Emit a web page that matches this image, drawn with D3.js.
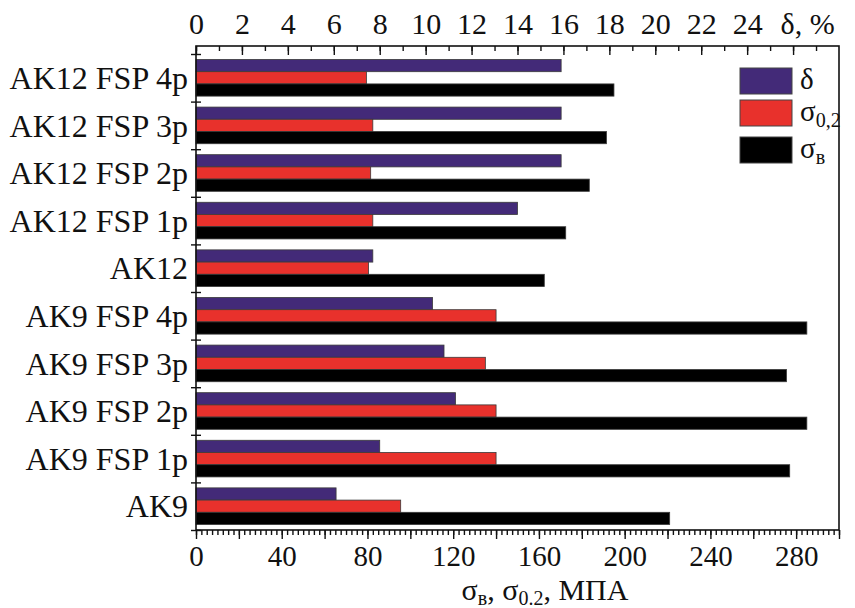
<!DOCTYPE html>
<html>
<head>
<meta charset="utf-8">
<script src="https://cdn.jsdelivr.net/npm/d3@7"></script>
<style>
  body { margin: 0; background: #fff; }
  svg text { font-family: "Liberation Serif", "Times New Roman", serif; fill: #111; }
</style>
</head>
<body>
<script>
const w = 855;
const h = 608;

// categories, top to bottom
const categories = [
	"AK12 FSP 4p",
	"AK12 FSP 3p",
	"AK12 FSP 2p",
	"AK12 FSP 1p",
	"AK12",
	"AK9 FSP 4p",
	"AK9 FSP 3p",
	"AK9 FSP 2p",
	"AK9 FSP 1p",
	"AK9",
];
// δ, % (top axis)
const delta = [15.9, 15.9, 15.9, 14.0, 7.7, 10.3, 10.8, 11.3, 8.0, 6.1];
// σ0.2 and σв, MPa (bottom axis)
const sigma02 = [79.5, 82.5, 81.5, 82.5, 80.5, 140, 135, 140, 140, 95.5];
const sigmaB = [195, 191.5, 183.5, 172.5, 162.5, 285, 275.5, 285, 277, 221];

const series = ["delta", "sigma02", "sigmaB"];
const colors = { delta: "#432a78", sigma02: "#e8312c", sigmaB: "#000000" };

const topTicks = [0, 2, 4, 6, 8, 10, 12, 14, 16, 18, 20, 22, 24, 26];
const topTickLabels = ["0", "2", "4", "6", "8", "10", "12", "14", "16", "18", "20", "22", "24", "δ, %"];
const bottomTicks = [0, 40, 80, 120, 160, 200, 240, 280];

const pLeft = 196, pRight = 839, pTop = 46, pBottom = 530;

const svg = d3.select("body").append("svg").attr("width", w).attr("height", h);

// * SCALES
const xTop = d3.scaleLinear().domain([0, 28]).range([pLeft, pRight]);
const xBot = d3.scaleLinear().domain([0, 300]).range([pLeft, pRight]);
const y = d3.scaleBand().domain(categories).range([54, pBottom]).padding(0);
const y1 = d3
	.scaleBand()
	.domain(series)
	.range([y.bandwidth() * 0.115, y.bandwidth() * 0.885]);

// * BARS
const rows = categories.map((c, i) => ({
	cat: c,
	values: [
		{ key: "delta", x: xTop(delta[i]) },
		{ key: "sigma02", x: xBot(sigma02[i]) },
		{ key: "sigmaB", x: xBot(sigmaB[i]) },
	],
}));

svg.append("g")
	.selectAll("g")
	.data(rows)
	.enter()
	.append("g")
	.attr("transform", (d) => "translate(0," + y(d.cat) + ")")
	.selectAll("rect")
	.data((d) => d.values)
	.enter()
	.append("rect")
	.attr("x", pLeft)
	.attr("y", (d) => y1(d.key))
	.attr("width", (d) => d.x - pLeft)
	.attr("height", y1.bandwidth())
	.attr("fill", (d) => colors[d.key])
	.attr("stroke", "#3a3a3a")
	.attr("stroke-width", 0.8);

// * FRAME
svg.append("rect")
	.attr("x", pLeft)
	.attr("y", pTop)
	.attr("width", pRight - pLeft)
	.attr("height", pBottom - pTop)
	.attr("fill", "none")
	.attr("stroke", "#111")
	.attr("stroke-width", 1.6);

// * TOP AXIS (δ)
svg.append("g")
	.attr("transform", "translate(0," + pTop + ")")
	.call(d3.axisTop(xTop).tickValues(d3.range(0, 28, 1)).tickSize(-5).tickFormat(""))
	.call((g) => g.select(".domain").remove());
const topAxis = svg
	.append("g")
	.attr("transform", "translate(0," + pTop + ")")
	.call(
		d3
			.axisTop(xTop)
			.tickValues(topTicks)
			.tickSize(-9)
			.tickPadding(12)
			.tickFormat((d, i) => topTickLabels[i])
	)
	.call((g) => g.select(".domain").remove());
topAxis.selectAll("text").attr("font-size", 30).attr("fill", "#111");
topAxis
	.selectAll("text")
	.filter((d) => d === 26)
	.attr("dx", 14);

// * BOTTOM AXIS (σ)
svg.append("g")
	.attr("transform", "translate(0," + pBottom + ")")
	.call(d3.axisBottom(xBot).tickValues(d3.range(0, 301, 2.5)).tickSize(5).tickFormat(""))
	.call((g) => g.select(".domain").remove());
svg.append("g")
	.attr("transform", "translate(0," + pBottom + ")")
	.call(d3.axisBottom(xBot).tickValues(d3.range(0, 301, 20)).tickSize(9).tickFormat(""))
	.call((g) => g.select(".domain").remove());
const botAxis = svg
	.append("g")
	.attr("transform", "translate(0," + pBottom + ")")
	.call(d3.axisBottom(xBot).tickValues(bottomTicks).tickSize(0).tickPadding(15))
	.call((g) => g.select(".domain").remove());
botAxis.selectAll("text").attr("font-size", 29).attr("fill", "#111");
svg.selectAll(".tick line").attr("stroke", "#111").attr("stroke-width", 1.4);

// * LEFT AXIS
const yBound = d3.scaleLinear().domain([0, categories.length]).range([54, pBottom]);
svg.append("g")
	.attr("transform", "translate(" + pLeft + ",0)")
	.call(d3.axisLeft(yBound).ticks(categories.length).tickSize(5).tickFormat(""))
	.call((g) => g.select(".domain").remove())
	.selectAll(".tick line")
	.attr("x2", -5)
	.attr("x1", 5)
	.attr("stroke", "#111")
	.attr("stroke-width", 1.4);

svg.append("g")
	.selectAll("text")
	.data(categories)
	.enter()
	.append("text")
	.attr("x", 188)
	.attr("y", (d) => y(d) + y.bandwidth() / 2)
	.attr("dy", "0.35em")
	.attr("text-anchor", "end")
	.attr("font-size", 32)
	.text((d) => d);

// * AXIS TITLE
const title = svg
	.append("text")
	.attr("x", 545)
	.attr("y", 600)
	.attr("text-anchor", "middle")
	.attr("font-size", 30);
title.append("tspan").text("σ");
title.append("tspan").attr("font-size", 20).attr("dy", 5).text("в");
title.append("tspan").attr("dy", -5).text(", σ");
title.append("tspan").attr("font-size", 20).attr("dy", 5).text("0.2");
title.append("tspan").attr("dy", -5).text(", МПА");

// * LEGEND
const legendItems = [
	{ key: "delta", sym: "δ", sub: "" },
	{ key: "sigma02", sym: "σ", sub: "0,2" },
	{ key: "sigmaB", sym: "σ", sub: "в" },
];
const legendY = [68, 100, 137];
const legend = svg
	.append("g")
	.selectAll("g")
	.data(legendItems)
	.enter()
	.append("g")
	.attr("transform", (d, i) => "translate(740," + legendY[i] + ")");
legend
	.append("rect")
	.attr("width", 52)
	.attr("height", 26)
	.attr("fill", (d) => colors[d.key])
	.attr("stroke", "#444")
	.attr("stroke-width", 1);
const lt = legend
	.append("text")
	.attr("x", 60)
	.attr("y", 21)
	.attr("font-size", 29);
lt.append("tspan").text((d) => d.sym);
lt.append("tspan")
	.attr("font-size", 20)
	.attr("dy", 6)
	.text((d) => d.sub);
</script>
</body>
</html>
